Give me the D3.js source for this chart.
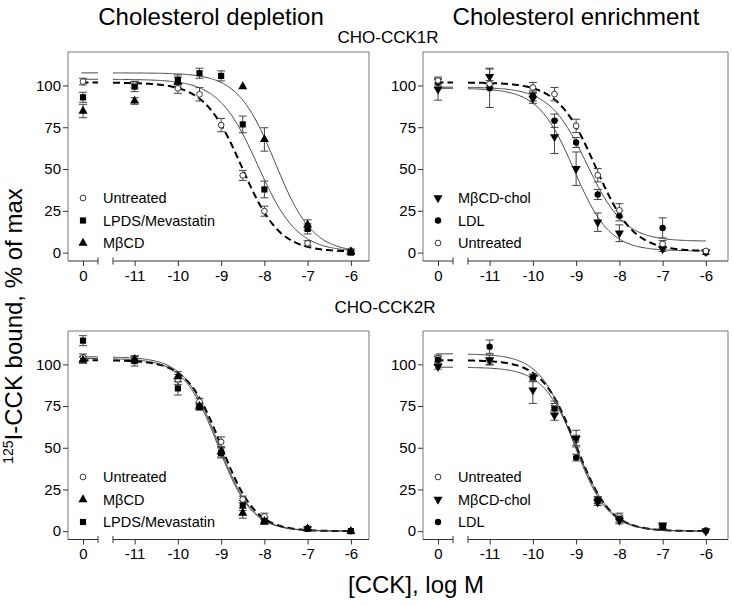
<!DOCTYPE html>
<html><head><meta charset="utf-8">
<script src="https://cdn.jsdelivr.net/npm/d3@7"></script>
<style>body{margin:0;background:#fff}svg{display:block;font-family:"Liberation Sans",Arial,sans-serif}</style>
</head><body><svg id="c" width="733" height="605"></svg>
<script>
// x keys: 0 = control (no CCK), others = log M
const doseKeys = [0, -11, -10, -9.5, -9, -8.5, -8, -7, -6];
const xTicksMain = [-11, -10, -9, -8, -7, -6];
const yTicks = [0, 25, 50, 75, 100];

// Panel A: CHO-CCK1R, cholesterol depletion
const a_untreated = [102.3, 100.5, 98.3, 94.7, 76.3, 46.2, 24.8, 5.6, 1.2];
const a_untreatedErr = [2, 2, 3, 4, 4, 3, 3, 1.5, 1];
const a_lpds = [92.9, 99.3, 103.3, 107.3, 105.7, 76.7, 37.8, 14.2, 0];
const a_lpdsErr = [3, 3, 3, 3, 3, 5, 5, 3, 1];
const a_mbcd = [84.7, 90.7, 102, null, null, 99.3, 67.7, 16.6, 0.5];
const a_mbcdErr = [4, 2, 3, 0, 0, 0, 7, 3, 1];
// fitted curves: [top, bottom, logIC50, hill]
const a_fitUntreated = [101.7, 0.5, -8.52, 1.0];
const a_fitLpds = [103.7, 0.5, -8.15, 0.95];
const a_fitMbcd = [107.5, 0, -7.75, 1.0];

// Panel B: CHO-CCK1R, cholesterol enrichment
const b_mbcdChol = [97.7, 105.3, 92.3, 69.3, 50.2, 18.2, 11.6, 2.2, 0.5];
const b_mbcdCholErr = [6.5, 5, 3, 10, 10, 5.5, 5, 1.5, 0.5];
const b_ldl = [101.7, 98.3, 93.7, 78.9, 65.9, 34.8, 22, 14.8, 0];
const b_ldlErr = [2, 11.5, 3, 4, 3, 3, 3, 6, 1];
const b_untreated = [103, 101, 98.8, 94.8, 75.8, 46.3, 25.3, 5.2, 1];
const b_untreatedErr = [2, 2, 3, 4, 4, 4, 4, 2, 0.5];
const b_fitMbcdChol = [98.3, 1.0, -9.05, 1.05];
const b_fitLdl = [99, 6.8, -8.75, 1.0];
const b_fitUntreated = [101.8, 0.8, -8.55, 1.0];

// Panel C: CHO-CCK2R, cholesterol depletion
const c_untreated = [104.2, 103, 91, 77.6, 53.5, 19, 8.8, 1.5, 0];
const c_untreatedErr = [2, 2, 3, 2, 3, 2, 2, 1, 0.5];
const c_mbcd = [102.6, 103, 92.6, 75, 47.5, 10.8, 6, 1.5, 0];
const c_mbcdErr = [2, 2, 3, 2, 3, 3, 2, 1, 0.5];
const c_lpds = [114.2, 102, 85.6, 74.5, 46.9, 15.4, 6, 1.4, 0];
const c_lpdsErr = [3, 3, 4, 2, 3, 3, 2, 1, 0.5];
const c_fitUntreated = [102.5, 0, -9.0, 1.1];
const c_fitMbcd = [103.5, 0, -9.08, 1.1];
const c_fitLpds = [104.5, 0, -9.06, 1.1];

// Panel D: CHO-CCK2R, cholesterol enrichment
const d_untreated = [103.6, 102, 91.6, 75, 54.5, 18.4, 8.8, 2.4, 0];
const d_untreatedErr = [2, 2, 2, 3, 3, 2, 2, 1, 0.5];
const d_mbcdChol = [98.6, 102.6, 84.6, 69.5, 55.5, 17.4, 6.4, 3.4, 0];
const d_mbcdCholErr = [1.5, 3, 8, 3, 5, 2, 2, 1.5, 0.5];
const d_ldl = [102.6, 110.6, 92.2, 73.5, 44.1, 18.8, 7.4, 2.4, 0.4];
const d_ldlErr = [2, 4, 2, 3, 2, 2, 2, 1, 0.5];
const d_fitUntreated = [102.5, 0, -9.0, 1.1];
const d_fitLdl = [106.3, 0, -9.06, 1.1];
const d_fitMbcdChol = [98.3, 0, -8.98, 1.1];

const titleTexts = ["Cholesterol depletion", "Cholesterol enrichment"];
const rowLabels = ["CHO-CCK1R", "CHO-CCK2R"];
const xLabel = "[CCK], log M";

// ----- layout / styles -----
const svg = d3.select("#c");
const FONT = '"Liberation Sans", Arial, sans-serif';
const frameCol = "#777", axisCol = "#333", errCol = "#444";

const panels = [
  {left: 68, right: 369, top: 52, bottom: 261,
   series: [
     {name: "Untreated", v: a_untreated, e: a_untreatedErr, fit: a_fitUntreated, sym: "circleOpen", dash: true},
     {name: "LPDS/Mevastatin", v: a_lpds, e: a_lpdsErr, fit: a_fitLpds, sym: "square"},
     {name: "M\u03B2CD", v: a_mbcd, e: a_mbcdErr, fit: a_fitMbcd, sym: "triangle"}]},
  {left: 423, right: 728, top: 52, bottom: 261,
   series: [
     {name: "M\u03B2CD-chol", v: b_mbcdChol, e: b_mbcdCholErr, fit: b_fitMbcdChol, sym: "triDown"},
     {name: "LDL", v: b_ldl, e: b_ldlErr, fit: b_fitLdl, sym: "circle"},
     {name: "Untreated", v: b_untreated, e: b_untreatedErr, fit: b_fitUntreated, sym: "circleOpen", dash: true}]},
  {left: 68, right: 369, top: 331, bottom: 539.5,
   series: [
     {name: "Untreated", v: c_untreated, e: c_untreatedErr, fit: c_fitUntreated, sym: "circleOpen", dash: true},
     {name: "M\u03B2CD", v: c_mbcd, e: c_mbcdErr, fit: c_fitMbcd, sym: "triangle"},
     {name: "LPDS/Mevastatin", v: c_lpds, e: c_lpdsErr, fit: c_fitLpds, sym: "square"}]},
  {left: 423, right: 728, top: 331, bottom: 539.5,
   series: [
     {name: "Untreated", v: d_untreated, e: d_untreatedErr, fit: d_fitUntreated, sym: "circleOpen", dash: true},
     {name: "M\u03B2CD-chol", v: d_mbcdChol, e: d_mbcdCholErr, fit: d_fitMbcdChol, sym: "triDown"},
     {name: "LDL", v: d_ldl, e: d_ldlErr, fit: d_fitLdl, sym: "circle"}]}
];

function symbolFor(s) {
  const g = d3.symbol();
  if (s === "circleOpen") return g.type(d3.symbolCircle).size(26)();
  if (s === "circle") return g.type(d3.symbolCircle).size(32)();
  if (s === "square") return g.type(d3.symbolSquare).size(38)();
  return g.type(d3.symbolTriangle).size(36)();
}
function drawSym(sel, s) {
  const p = sel.append("path").attr("d", symbolFor(s));
  if (s === "circleOpen") p.attr("fill", "#fff").attr("stroke", "#222").attr("stroke-width", 0.9);
  else p.attr("fill", "#000");
  if (s === "triDown") p.attr("transform", "rotate(180)");
  return p;
}
function fourPL(f, x) {
  const [top, bottom, c, h] = f;
  return bottom + (top - bottom) / (1 + Math.pow(10, (x - c) * h));
}

panels.forEach(P => {
  const g = svg.append("g");
  const unit = 43.25;
  const xMain = d3.scaleLinear().domain([-11.5, -6]).range([P.left + 45, P.left + 45 + 5.5 * unit]);
  const xCtrl = d3.scaleLinear().domain([-0.5, 0.5]).range([P.left, P.left + 30]);
  const y = d3.scaleLinear().domain([-5, 120]).range([P.bottom, P.top]);
  const xOf = k => k === 0 ? xCtrl(0) : xMain(k);

  // frame
  g.append("path").attr("fill", "none").attr("stroke", frameCol).attr("stroke-width", 1)
    .attr("d", `M${P.left},${P.bottom}V${P.top}H${P.right}V${P.bottom}`);
  // x axis segments with break
  const segs = [[P.left, xCtrl(0.5)], [xMain(-11.5), P.right]];
  segs.forEach(([a, b]) => {
    g.append("line").attr("x1", a).attr("x2", b).attr("y1", P.bottom).attr("y2", P.bottom)
      .attr("stroke", axisCol).attr("stroke-width", 1);
  });
  [xCtrl(0.5), xMain(-11.5)].forEach(xx => {
    g.append("line").attr("x1", xx).attr("x2", xx).attr("y1", P.bottom - 3.5).attr("y2", P.bottom + 3.5)
      .attr("stroke", axisCol).attr("stroke-width", 1);
  });
  const axMain = d3.axisBottom(xMain).tickValues(xTicksMain).tickSize(5).tickPadding(4).tickFormat(d => String(d));
  const axCtrl = d3.axisBottom(xCtrl).tickValues([0]).tickSize(5).tickPadding(4).tickFormat(d => "0");
  [axMain, axCtrl].forEach(ax => {
    const ag = g.append("g").attr("transform", `translate(0,${P.bottom})`).call(ax);
    ag.select(".domain").remove();
    ag.selectAll("line").attr("stroke", axisCol);
    ag.selectAll("text").attr("font-size", 15).attr("font-family", FONT).attr("fill", "#000");
  });
  const ay = g.append("g").attr("transform", `translate(${P.left},0)`)
    .call(d3.axisLeft(y).tickValues(yTicks).tickSize(5).tickPadding(2).tickFormat(d => String(d)));
  ay.select(".domain").remove();
  ay.selectAll("line").attr("stroke", axisCol);
  ay.selectAll("text").attr("font-size", 15).attr("font-family", FONT).attr("fill", "#000");

  // fitted curves
  const line = d3.line().x(d => xMain(d[0])).y(d => y(d[1]));
  const xs = d3.range(-11.5, -5.999, 0.025);
  P.series.forEach(s => {
    const path = g.append("path").attr("fill", "none")
      .attr("d", line(xs.map(x => [x, fourPL(s.fit, x)])));
    const ctrl = g.append("line").attr("x1", xCtrl(-0.05)).attr("x2", xCtrl(0.5))
      .attr("y1", y(s.fit[0])).attr("y2", y(s.fit[0]));
    [path, ctrl].forEach(p => {
      if (s.dash) p.attr("stroke", "#000").attr("stroke-width", 2).attr("stroke-dasharray", "7,4");
      else p.attr("stroke", "#333").attr("stroke-width", 0.9);
    });
  });

  // error bars + points
  P.series.forEach(s => {
    s.v.forEach((v, i) => {
      if (v == null) return;
      const e = s.e[i], cx = xOf(doseKeys[i]);
      if (e > 0.8) {
        const eb = g.append("g").attr("stroke", errCol).attr("stroke-width", 1);
        eb.append("line").attr("x1", cx).attr("x2", cx).attr("y1", y(v - e)).attr("y2", y(v + e));
        [v - e, v + e].forEach(t => eb.append("line").attr("x1", cx - 4).attr("x2", cx + 4).attr("y1", y(t)).attr("y2", y(t)));
      }
    });
  });
  P.series.forEach(s => {
    s.v.forEach((v, i) => {
      if (v == null) return;
      const sg = g.append("g").attr("transform", `translate(${xOf(doseKeys[i])},${y(v)})`);
      drawSym(sg, s.sym);
    });
  });

  // legend
  const lx = P.left + 15, ly0 = P.top + 146;
  P.series.forEach((s, i) => {
    const yy = ly0 + i * 22.5;
    const sg = g.append("g").attr("transform", `translate(${lx},${yy})`);
    drawSym(sg, s.sym);
    g.append("text").attr("x", lx + 20).attr("y", yy + 5).attr("font-size", 14.5)
      .attr("font-family", FONT).text(s.name);
  });
});

// titles
svg.append("text").attr("x", 211).attr("y", 25).attr("text-anchor", "middle").attr("font-size", 24).text(titleTexts[0]);
svg.append("text").attr("x", 576).attr("y", 25).attr("text-anchor", "middle").attr("font-size", 24).text(titleTexts[1]);
svg.append("text").attr("x", 388).attr("y", 43).attr("text-anchor", "middle").attr("font-size", 17).text(rowLabels[0]);
svg.append("text").attr("x", 385).attr("y", 313).attr("text-anchor", "middle").attr("font-size", 17).text(rowLabels[1]);
svg.append("text").attr("x", 416).attr("y", 593).attr("text-anchor", "middle").attr("font-size", 24).text(xLabel);
const yl = svg.append("text").attr("transform", "translate(22,326) rotate(-90)").attr("text-anchor", "middle").attr("font-size", 24);
yl.append("tspan").attr("font-size", 14).attr("dy", -9).text("125");
yl.append("tspan").attr("dy", 9).text("I-CCK bound, % of max");
</script></body></html>
